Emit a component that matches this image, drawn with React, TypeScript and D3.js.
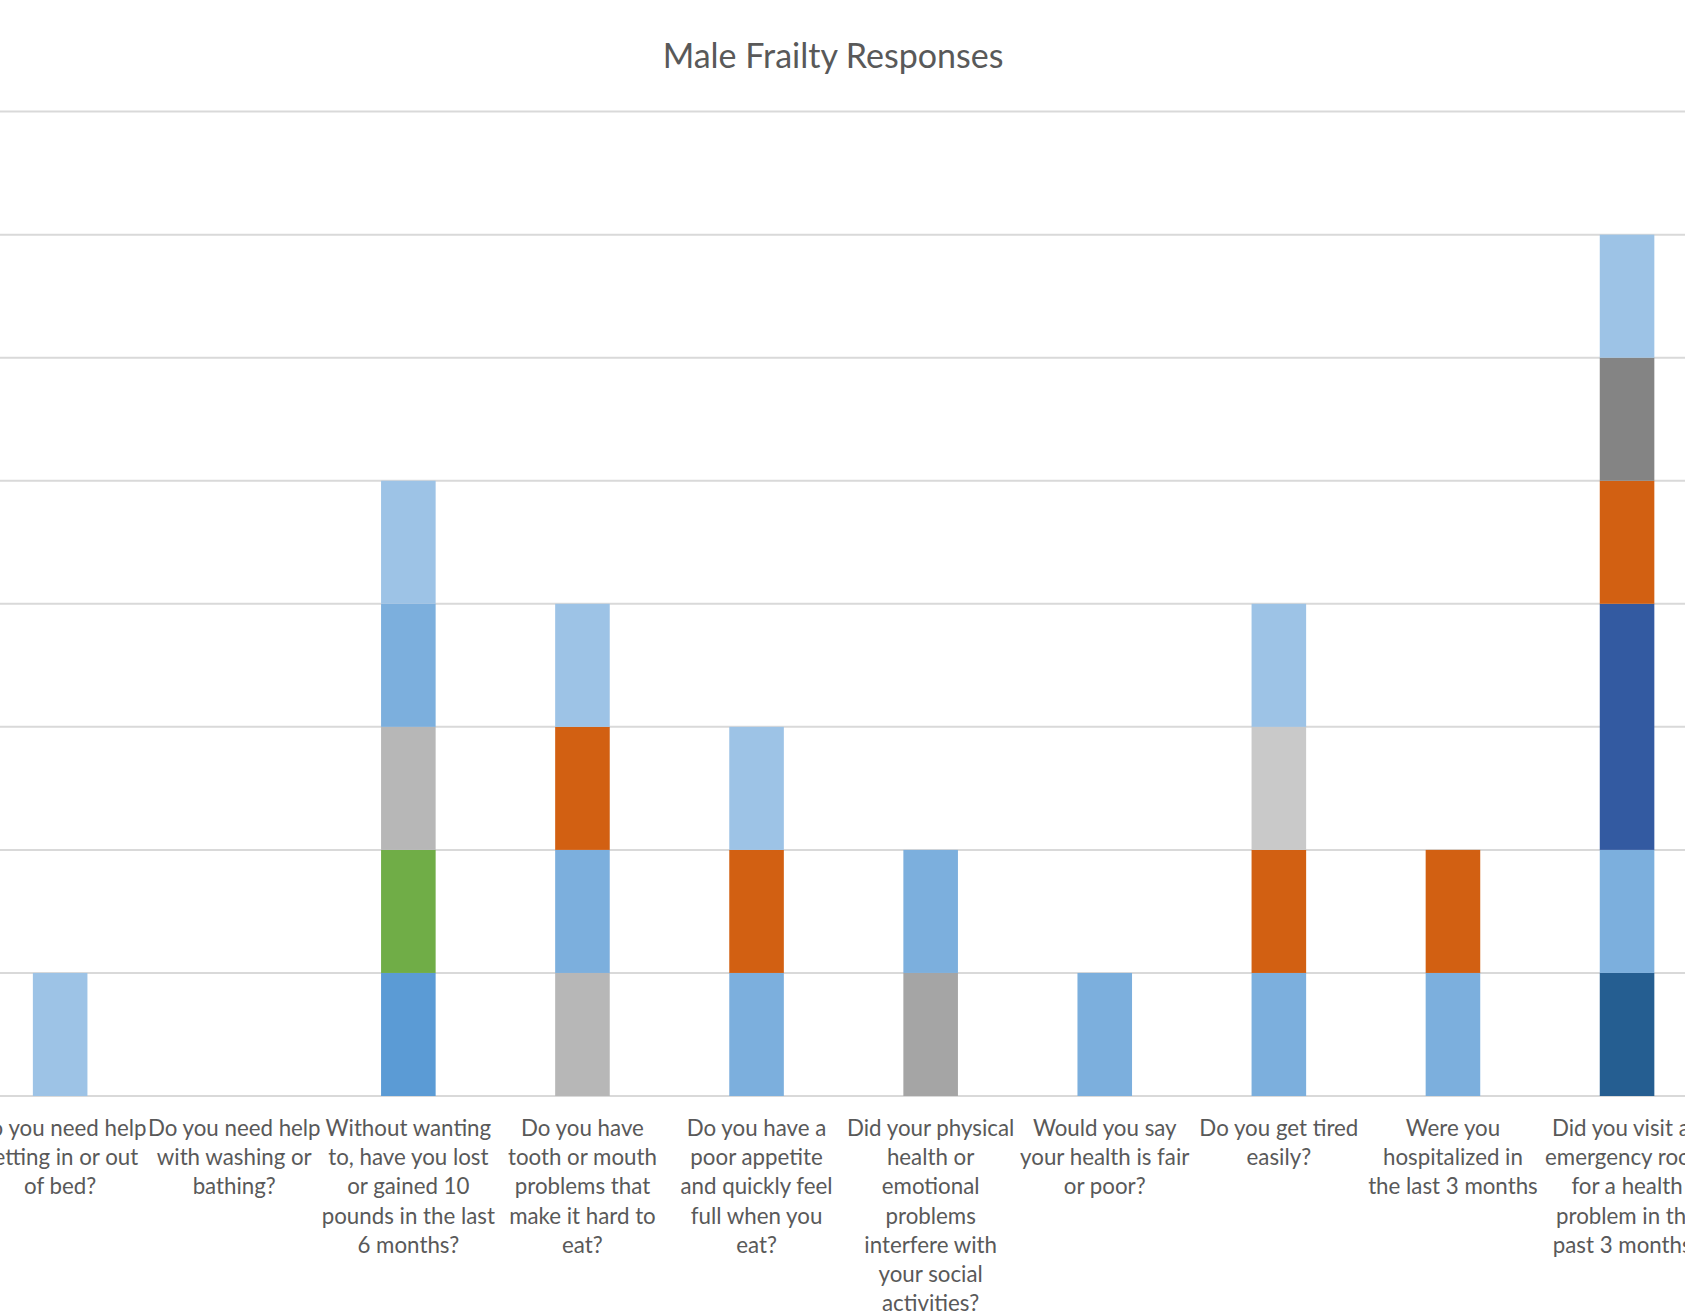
import React from "react";
import * as d3 from "d3";

const title = "Male Frailty Responses";

const categoryLines: string[][] = [
  ["Do you need help", "getting in or out", "of bed?"],
  ["Do you need help", "with washing or", "bathing?"],
  ["Without wanting", "to, have you lost", "or gained 10", "pounds in the last", "6 months?"],
  ["Do you have", "tooth or mouth", "problems that", "make it hard to", "eat?"],
  ["Do you have a", "poor appetite", "and quickly feel", "full when you", "eat?"],
  ["Did your physical", "health or", "emotional", "problems", "interfere with", "your social", "activities?"],
  ["Would you say", "your health is fair", "or poor?"],
  ["Do you get tired", "easily?"],
  ["Were you", "hospitalized in", "the last 3 months"],
  ["Did you visit an", "emergency room", "for a health", "problem in the", "past 3 months?"],
];
const categories = categoryLines.map((l) => l.join(" "));

// series stacked bottom to top
const seriesNames = ["s1", "s2", "s3", "s4", "s5", "s6", "s7", "s8", "s9", "s10", "s11"];
const seriesColors = ["#5B9BD5", "#70AD47", "#A5A5A5", "#255E91", "#B7B7B7", "#7CAFDD", "#335AA1", "#D26012", "#C9C9C9", "#848484", "#9DC3E6"];
const s1 = [0, 0, 1, 0, 0, 0, 0, 0, 0, 0];
const s2 = [0, 0, 1, 0, 0, 0, 0, 0, 0, 0];
const s3 = [0, 0, 0, 0, 0, 1, 0, 0, 0, 0];
const s4 = [0, 0, 0, 0, 0, 0, 0, 0, 0, 1];
const s5 = [0, 0, 1, 1, 0, 0, 0, 0, 0, 0];
const s6 = [0, 0, 1, 1, 1, 1, 1, 1, 1, 1];
const s7 = [0, 0, 0, 0, 0, 0, 0, 0, 0, 2];
const s8 = [0, 0, 0, 1, 1, 0, 0, 1, 1, 1];
const s9 = [0, 0, 0, 0, 0, 0, 0, 1, 0, 0];
const s10 = [0, 0, 0, 0, 0, 0, 0, 0, 0, 1];
const s11 = [1, 0, 1, 1, 1, 0, 0, 1, 0, 1];
const seriesValues = [s1, s2, s3, s4, s5, s6, s7, s8, s9, s10, s11];

const yTicks = [0, 1, 2, 3, 4, 5, 6, 7, 8];

const W = 1685;
const H = 1312;
const plotLeft = -26.9;
const plotRight = 1714.1;
const plotTop = 111.6;
const plotBottom = 1096;
const gapWidth = 2.19;
const FONT = "Lato, 'Open Sans', sans-serif";
const TEXT = "#595959";

export default function App() {
  const x = d3.scaleBand<string>().domain(categories).range([plotLeft, plotRight]).padding(0);
  const y = d3.scaleLinear().domain([0, 8]).range([plotBottom, plotTop]);
  const barW = x.bandwidth() / (1 + gapWidth);

  const rows = categories.map((c, i) => {
    const r: Record<string, any> = { cat: c };
    seriesNames.forEach((s, k) => (r[s] = seriesValues[k][i]));
    return r;
  });
  const stacked = d3.stack<any>().keys(seriesNames)(rows);

  return (
    <svg width={W} height={H} style={{ position: "absolute", left: 0, top: 0, background: "#fff" }}>
      <rect x={0} y={0} width={W} height={H} fill="#fff" />
      <text x={833} y={68} textAnchor="middle" fontFamily={FONT} fontSize={34} fill={TEXT}>
        {title}
      </text>
      {yTicks.map((t) => (
        <line key={t} x1={plotLeft} x2={plotRight} y1={y(t)} y2={y(t)} stroke="#D9D9D9" strokeWidth={2} />
      ))}
      {stacked.map((layer, k) => (
        <g key={layer.key} fill={seriesColors[k]}>
          {layer.map((d, i) =>
            d[1] - d[0] > 0 ? (
              <rect
                key={i}
                x={(x(categories[i]) as number) + (x.bandwidth() - barW) / 2}
                y={y(d[1])}
                width={barW}
                height={y(d[0]) - y(d[1])}
              />
            ) : null
          )}
        </g>
      ))}
      {categoryLines.map((lines, i) => (
        <text key={i} textAnchor="middle" fontFamily={FONT} fontSize={22.3} fill={TEXT}>
          {lines.map((l, j) => (
            <tspan key={j} x={(x(categories[i]) as number) + x.bandwidth() / 2} y={1136 + j * 29.2}>
              {l}
            </tspan>
          ))}
        </text>
      ))}
    </svg>
  );
}
